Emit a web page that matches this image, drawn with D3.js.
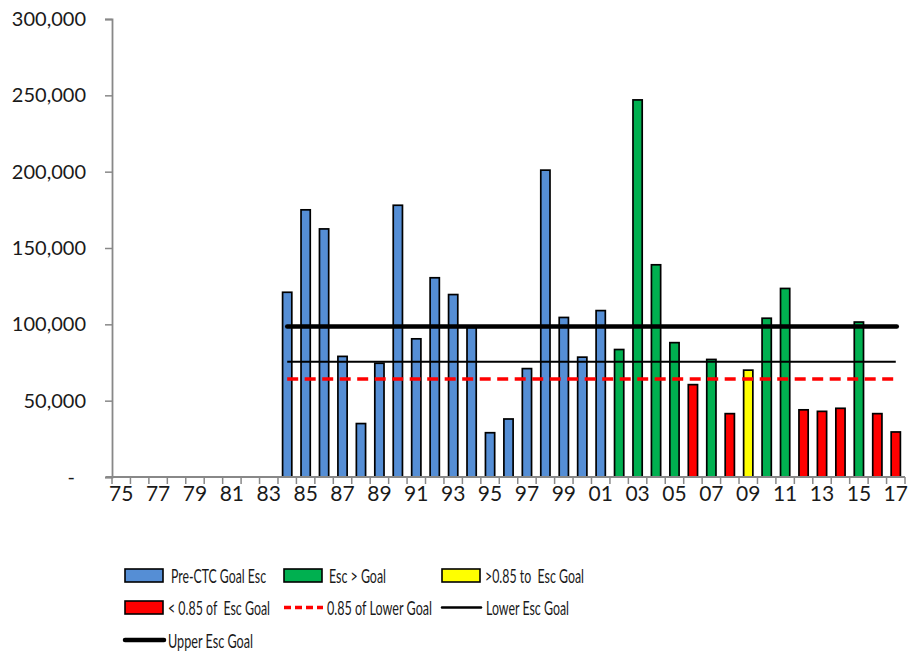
<!DOCTYPE html>
<html>
<head>
<meta charset="utf-8">
<script src="https://cdn.jsdelivr.net/npm/d3@7"></script>
<style>
  html, body { margin: 0; padding: 0; background: #fff; }
  svg { display: block; }
  text { font-family: Lato, "Liberation Sans", Arial, sans-serif; fill: #1a1a1a; }
  .legend text { white-space: pre; }
</style>
</head>
<body>
<svg id="chart" width="909" height="651"></svg>
<script>
// ---- data ----
const years = ["75","76","77","78","79","80","81","82","83","84","85","86","87","88","89","90","91","92","93","94","95","96","97","98","99","00","01","02","03","04","05","06","07","08","09","10","11","12","13","14","15","16","17"];
const tickLabels = ["75","77","79","81","83","85","87","89","91","93","95","97","99","01","03","05","07","09","11","13","15","17"];
const escapement = [null,null,null,null,null,null,null,null,null,
  121000,175000,162500,79000,35000,74500,178000,90500,130500,119500,98000,29000,38000,71000,201000,104500,78500,109000,
  83500,247000,139000,88000,60500,77000,41500,70000,104000,123500,44000,43000,45000,101500,41500,29500];
const status = [null,null,null,null,null,null,null,null,null,
  "pre","pre","pre","pre","pre","pre","pre","pre","pre","pre","pre","pre","pre","pre","pre","pre","pre","pre",
  "above","above","above","above","below","above","below","near","above","above","below","below","below","above","below","below"];
const goalFirstYear = "84";
const goalLastYear = "17";
const upperGoal = 98500;
const lowerGoal = 75500;
const lowerGoal85 = 64200;
const yTicks = [0,50000,100000,150000,200000,250000,300000];

// ---- styles ----
const colors = { pre: "#558ED5", above: "#00B050", near: "#FFFF00", below: "#FF0000" };

const svg = d3.select("#chart");
const mLeft = 112, mRight = 905, mTop = 19, mBottom = 477;

const x = d3.scaleBand().domain(years).range([mLeft, mRight]).paddingInner(0.5).paddingOuter(0.25);
const xBound = d3.scaleLinear().domain([0, years.length]).range([mLeft, mRight]);
const y = d3.scaleLinear().domain([0, 300000]).range([mBottom, mTop]);

// bars
svg.append("g").selectAll("rect")
  .data(years.map((yr, i) => ({ yr, v: escapement[i], s: status[i] })).filter(d => d.v != null))
  .join("rect")
  .attr("x", d => x(d.yr))
  .attr("width", x.bandwidth())
  .attr("y", d => y(d.v))
  .attr("height", d => y(0) - y(d.v))
  .attr("fill", d => colors[d.s])
  .attr("stroke", "#000")
  .attr("stroke-width", 1.7);

// goal lines
const gx1 = x(goalFirstYear) + x.bandwidth() / 2;
const gx2 = x(goalLastYear) + x.bandwidth() / 2;
svg.append("line").attr("x1", gx1).attr("x2", gx2 - 2).attr("y1", y(lowerGoal85)).attr("y2", y(lowerGoal85))
  .attr("stroke", "#FF0000").attr("stroke-width", 3.5).attr("stroke-dasharray", "11,6.5");
svg.append("line").attr("x1", gx1).attr("x2", gx2).attr("y1", y(lowerGoal)).attr("y2", y(lowerGoal))
  .attr("stroke", "#000").attr("stroke-width", 2.2);
svg.append("line").attr("x1", gx1).attr("x2", gx2 + 1).attr("y1", y(upperGoal)).attr("y2", y(upperGoal))
  .attr("stroke", "#000").attr("stroke-width", 4.5).attr("stroke-linecap", "round");

// y axis
const yAxis = svg.append("g").attr("transform", `translate(${mLeft},0)`)
  .call(d3.axisLeft(y).tickValues(yTicks).tickSize(7).tickPadding(19)
    .tickFormat(d => d === 0 ? "-" : d3.format(",")(d)));
yAxis.select(".domain").attr("stroke", "#888").attr("stroke-width", 1.8);
yAxis.selectAll(".tick line").attr("stroke", "#888").attr("stroke-width", 1.5);
yAxis.selectAll(".tick text").attr("font-size", 20).attr("fill", "#1a1a1a")
  .attr("font-family", "Lato, 'Liberation Sans', sans-serif")
  .attr("dx", d => d === 0 ? -11 : 0);

// x axis: labels
const xAxis = svg.append("g").attr("transform", `translate(0,${mBottom})`)
  .call(d3.axisBottom(x).tickValues(tickLabels).tickSize(0).tickPadding(20));
xAxis.select(".domain").remove();
xAxis.selectAll(".tick text").attr("font-size", 21).attr("fill", "#1a1a1a")
  .attr("font-family", "Lato, 'Liberation Sans', sans-serif")
  .attr("dy", "0.2em");
// x axis line and boundary ticks
svg.append("line").attr("x1", mLeft - 6).attr("x2", mRight).attr("y1", mBottom).attr("y2", mBottom)
  .attr("stroke", "#888").attr("stroke-width", 1.8);
svg.append("g").selectAll("line").data(d3.range(0, years.length + 1)).join("line")
  .attr("x1", d => xBound(d)).attr("x2", d => xBound(d))
  .attr("y1", mBottom).attr("y2", mBottom + 7)
  .attr("stroke", "#888").attr("stroke-width", 1.5);

// legend
const legendItems = [
  { type: "rect", color: colors.pre, label: "Pre-CTC Goal Esc", x: 125, y: 575.5, tx: 171, tw: 95 },
  { type: "rect", color: colors.above, label: "Esc > Goal", x: 284, y: 575.5, tx: 329, tw: 57 },
  { type: "rect", color: colors.near, label: ">0.85 to  Esc Goal", x: 442, y: 575.5, tx: 485, tw: 99 },
  { type: "rect", color: colors.below, label: "< 0.85 of  Esc Goal", x: 125, y: 607.5, tx: 168, tw: 102 },
  { type: "dash", color: "#FF0000", label: "0.85 of Lower Goal", x: 284, y: 607.5, tx: 327, tw: 105 },
  { type: "line", color: "#000", w: 2.5, label: "Lower Esc Goal", x: 442, y: 607.5, tx: 486, tw: 83 },
  { type: "line", color: "#000", w: 4.5, label: "Upper Esc Goal", x: 125, y: 640, tx: 168, tw: 85 }
];
const lg = svg.append("g").attr("class", "legend");
legendItems.forEach(it => {
  if (it.type === "rect") {
    lg.append("rect").attr("x", it.x).attr("y", it.y - 6.5).attr("width", 38).attr("height", 13)
      .attr("fill", it.color).attr("stroke", "#000").attr("stroke-width", 1.6);
  } else if (it.type === "dash") {
    lg.append("line").attr("x1", it.x).attr("x2", it.x + 39).attr("y1", it.y).attr("y2", it.y)
      .attr("stroke", it.color).attr("stroke-width", 3.5).attr("stroke-dasharray", "7,4");
  } else {
    lg.append("line").attr("x1", it.x).attr("x2", it.x + 39).attr("y1", it.y).attr("y2", it.y)
      .attr("stroke", it.color).attr("stroke-width", it.w).attr("stroke-linecap", "round");
  }
  lg.append("text").attr("x", it.tx).attr("y", it.y).attr("dominant-baseline", "central")
    .attr("font-size", 19).attr("textLength", it.tw).attr("lengthAdjust", "spacingAndGlyphs")
    .text(it.label);
});
</script>
</body>
</html>
